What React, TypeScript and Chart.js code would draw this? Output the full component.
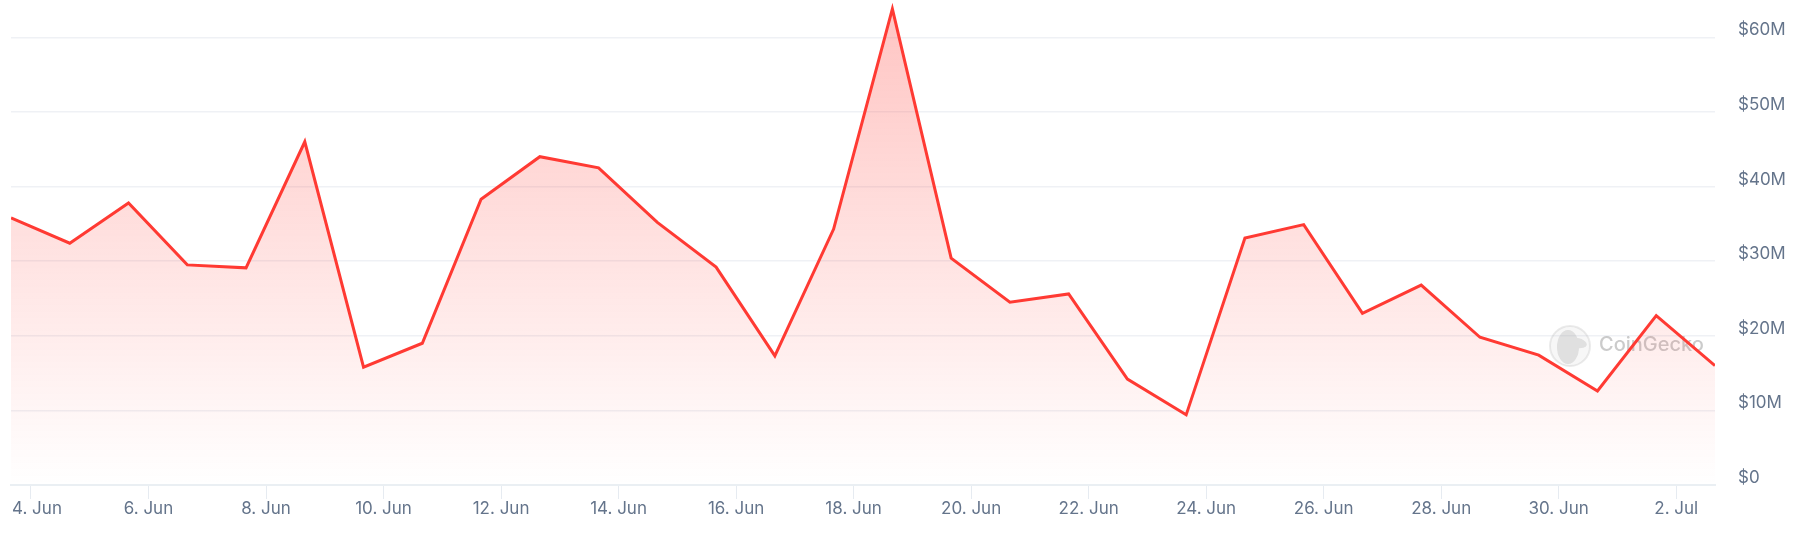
import { useEffect, useRef } from "react"
import { Chart, registerables } from "chart.js"

Chart.register(...registerables)

// days counted from 1 Jun (32 = 2 Jul), samples sit at the same time of day
const pointDays = [
  3.66, 4.66, 5.66, 6.66, 7.66, 8.66, 9.66, 10.66, 11.66, 12.66,
  13.66, 14.66, 15.66, 16.66, 17.66, 18.66, 19.66, 20.66, 21.66, 22.66,
  23.66, 24.66, 25.66, 26.66, 27.66, 28.66, 29.66, 30.66, 31.66, 32.66
]
// volume in millions of USD
const volumes = [
  35.8, 32.4, 37.8, 29.5, 29.1, 46.0, 15.8, 19.0, 38.3, 44.0,
  42.5, 35.2, 29.2, 17.3, 34.3, 63.8, 30.4, 24.5, 25.6, 14.2,
  9.4, 33.1, 34.9, 23.0, 26.8, 19.8, 17.4, 12.6, 22.7, 16.0
]
const xTickDays = [4, 6, 8, 10, 12, 14, 16, 18, 20, 22, 24, 26, 28, 30, 32]
const xTickLabels = [
  "4. Jun", "6. Jun", "8. Jun", "10. Jun", "12. Jun", "14. Jun", "16. Jun", "18. Jun",
  "20. Jun", "22. Jun", "24. Jun", "26. Jun", "28. Jun", "30. Jun", "2. Jul"
]
const yTickValues = [0, 10, 20, 30, 40, 50, 60]
const yTickLabels = ["$0", "$10M", "$20M", "$30M", "$40M", "$50M", "$60M"]

const FONT = "Inter"
const LABEL_COLOR = "#64748b"

// first x label is pushed inside the plot, like the original does
const shiftFirstLabel = {
  id: "shiftFirstLabel",
  beforeDraw(chart: any) {
    const items = chart.scales.x.getLabelItems(chart.chartArea)
    if (items.length && !items[0].shifted) {
      items[0].options.translation[0] += 6
      items[0].shifted = true
    }
  }
}

// CoinGecko mark under the line
const watermark = {
  id: "watermark",
  beforeDatasetsDraw(chart: any) {
    const ctx = chart.ctx
    ctx.save()
    ctx.strokeStyle = "rgba(190,190,190,0.3)"
    ctx.fillStyle = "rgba(190,190,190,0.12)"
    ctx.lineWidth = 2
    ctx.beginPath()
    ctx.arc(1570, 346, 20, 0, Math.PI * 2)
    ctx.fill()
    ctx.stroke()
    ctx.fillStyle = "rgba(170,170,170,0.3)"
    ctx.beginPath()
    ctx.ellipse(1568, 347, 11, 17, 0, 0, Math.PI * 2)
    ctx.ellipse(1577, 343, 10, 5, 0.2, 0, Math.PI * 2)
    ctx.fill()
    ctx.fillStyle = "rgba(140,140,140,0.45)"
    ctx.font = `500 20px ${FONT}`
    ctx.textAlign = "left"
    ctx.textBaseline = "middle"
    ctx.fillText("CoinGecko", 1599, 345)
    ctx.restore()
  }
}

export default function App() {
  const canvasRef = useRef<HTMLCanvasElement>(null)

  useEffect(() => {
    document.body.style.margin = "0"
    if (!canvasRef.current) return
    const chart = new Chart(canvasRef.current, {
      type: "line",
      data: {
        datasets: [
          {
            data: pointDays.map((d, i) => ({ x: d, y: volumes[i] })),
            borderColor: "#ff3a33",
            borderWidth: 3,
            pointRadius: 0,
            tension: 0,
            fill: "origin",
            backgroundColor: (ctx: any) => {
              const area = ctx.chart.chartArea
              if (!area) return "rgba(255,58,51,0.1)"
              const g = ctx.chart.ctx.createLinearGradient(0, area.top, 0, area.bottom)
              g.addColorStop(0, "rgba(255,58,51,0.3)")
              g.addColorStop(1, "rgba(255,58,51,0)")
              return g
            }
          }
        ]
      },
      options: {
        responsive: false,
        animation: false,
        layout: { padding: { left: 11, right: 0, top: 0, bottom: 0 } },
        plugins: {
          legend: { display: false },
          tooltip: { enabled: false }
        },
        scales: {
          x: {
            type: "linear",
            min: 3.66,
            max: 32.66,
            afterBuildTicks: (scale: any) => {
              scale.ticks = xTickDays.map((value) => ({ value }))
            },
            afterFit: (scale: any) => {
              scale.height = 50
              scale.paddingLeft = 0
              scale.paddingRight = 0
            },
            grid: {
              drawOnChartArea: false,
              drawTicks: true,
              tickLength: 14,
              tickColor: "#e6ebf1",
              tickWidth: 1
            },
            border: { display: true, color: "#eaeff3", width: 2 },
            ticks: {
              autoSkip: false,
              maxRotation: 0,
              padding: 0,
              color: LABEL_COLOR,
              font: { family: FONT, size: 17 },
              callback: (value: any) => xTickLabels[xTickDays.indexOf(value)]
            }
          },
          y: {
            position: "right",
            min: 0,
            max: 65,
            afterBuildTicks: (scale: any) => {
              scale.ticks = yTickValues.map((value) => ({ value }))
            },
            afterFit: (scale: any) => {
              scale.width = 80
              scale.paddingTop = 0
              scale.paddingBottom = 0
            },
            grid: {
              color: "#eff1f5",
              lineWidth: 1.5,
              drawTicks: false
            },
            border: { display: false },
            ticks: {
              crossAlign: "near",
              padding: 23,
              labelOffset: -7,
              color: LABEL_COLOR,
              font: { family: FONT, size: 17 },
              callback: (value: any) => yTickLabels[yTickValues.indexOf(value)]
            }
          }
        }
      },
      plugins: [shiftFirstLabel, watermark]
    } as any)
    return () => chart.destroy()
  }, [])

  return (
    <div style={{ width: 1795, height: 535 }}>
      <canvas ref={canvasRef} width={1795} height={535} />
    </div>
  )
}
